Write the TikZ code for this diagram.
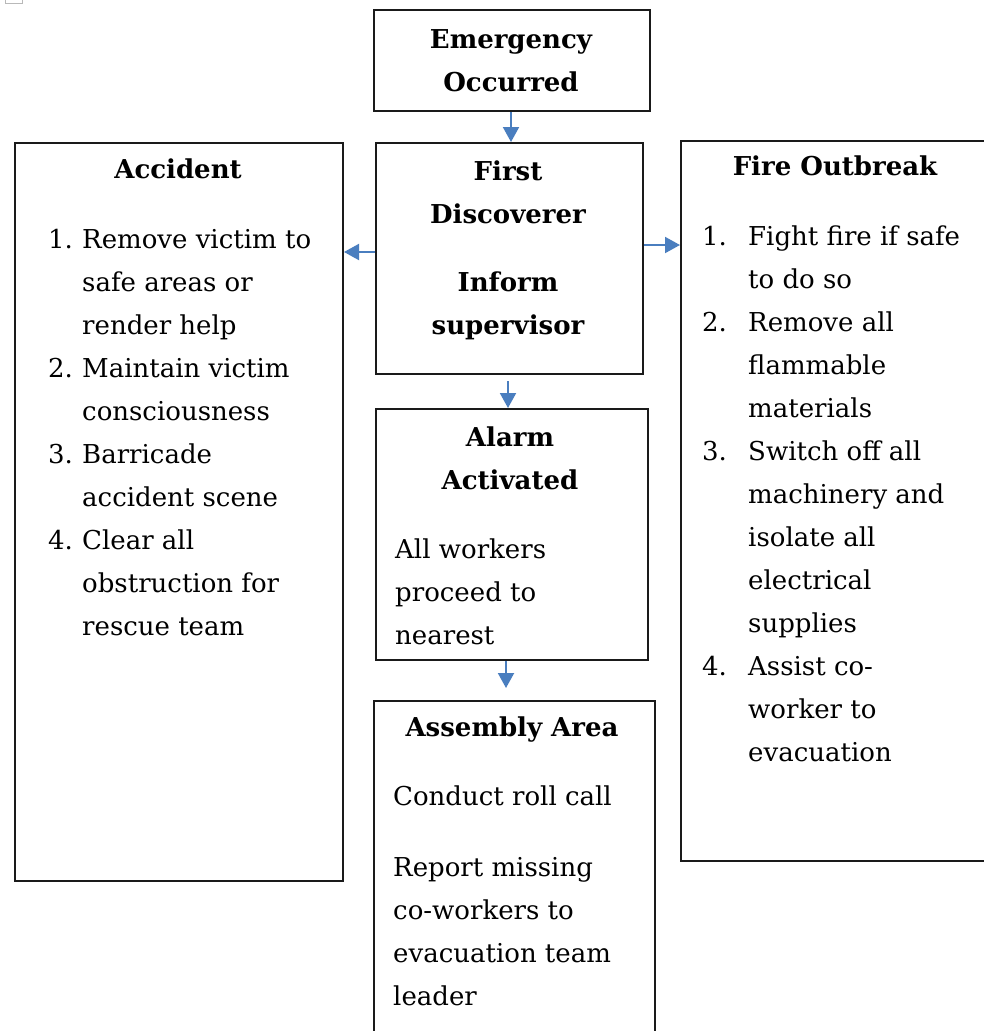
\documentclass[tikz,border=0pt]{standalone}
\usepackage{fontspec}
\setmainfont{DejaVu Serif}
\usetikzlibrary{arrows.meta}
\definecolor{arrblue}{HTML}{4A7EBF}
\definecolor{boxline}{HTML}{1A1A1A}
\newcommand{\fsz}{\fontsize{26}{43}\selectfont}
\begin{document}
\begin{tikzpicture}[x=1pt,y=-1pt,
  box/.style={draw=boxline,line width=2pt,inner sep=0pt,anchor=north west},
  arr/.style={draw=arrblue,line width=2pt,-{Triangle[length=15pt,width=16pt]}},
  ttl/.style={inner sep=0pt,font=\fsz\bfseries,anchor=base},
  lst/.style={inner sep=0pt,font=\fsz,anchor=base west}]
\useasboundingbox (0,0) rectangle (984,1031);
\clip (0,0) rectangle (984,1031);
\fill[white] (0,0) rectangle (984,1031);
\draw[gray!55,line width=1pt] (5,-4) rectangle (22,3);

% boxes
\node[box,minimum width=276pt,minimum height=101pt] (emerg) at (373,9) {};
\node[box,minimum width=267pt,minimum height=231pt] (first) at (375,142) {};
\node[box,minimum width=328pt,minimum height=738pt] (acc) at (14,142) {};
\node[box,minimum width=330pt,minimum height=720pt] (fire) at (680,140) {};
\node[box,minimum width=272pt,minimum height=251pt] (alarm) at (375,408) {};
\node[box,minimum width=281pt,minimum height=380pt] (assem) at (373,700) {};

% titles
\node[ttl] (emergT) at (511,48) {\begin{tabular}[t]{@{}c@{}}Emergency\\Occurred\end{tabular}};
\node[ttl] (firstT) at (508,180) {\begin{tabular}[t]{@{}c@{}}First\\Discoverer\end{tabular}};
\node[ttl] (informT) at (508,291) {\begin{tabular}[t]{@{}c@{}}Inform\\supervisor\end{tabular}};
\node[ttl] (accT) at (178,178) {Accident};
\node[ttl] (fireT) at (835,175) {Fire Outbreak};
\node[ttl] (alarmT) at (510,446) {\begin{tabular}[t]{@{}c@{}}Alarm\\Activated\end{tabular}};
\node[ttl] (assemT) at (512,736) {Assembly Area};

% bodies
\node[lst] (accL) at (48,248) {\begin{tabular}[t]{@{}p{34pt}@{}l@{}}
1.&Remove victim to\\ &safe areas or\\ &render help\\
2.&Maintain victim\\ &consciousness\\
3.&Barricade\\ &accident scene\\
4.&Clear all\\ &obstruction for\\ &rescue team\end{tabular}};
\node[lst] (fireL) at (702,245) {\begin{tabular}[t]{@{}p{46pt}@{}l@{}}
1.&Fight fire if safe\\ &to do so\\
2.&Remove all\\ &flammable\\ &materials\\
3.&Switch off all\\ &machinery and\\ &isolate all\\ &electrical\\ &supplies\\
4.&Assist co-\\ &worker to\\ &evacuation\end{tabular}};
\node[lst] (alarmL) at (395,558) {\begin{tabular}[t]{@{}l@{}}All workers\\proceed to\\nearest\end{tabular}};
\node[lst] (assemL1) at (393,805) {Conduct roll call};
\node[lst] (assemL2) at (393,876) {\begin{tabular}[t]{@{}l@{}}Report missing\\co-workers to\\evacuation team\\leader\end{tabular}};

% connectors
\draw[arr] ([xshift=-1pt]emerg.south) -- ([xshift=-1pt]emerg.south |- first.north);
\coordinate (l1) at ([yshift=6.5pt]first.west);
\draw[arr] (l1) -- (l1 -| acc.east);
\coordinate (r1) at ([yshift=13.5pt]first.east);
\draw[arr] (r1) -- (r1 -| fire.west);
\coordinate (d1) at ([xshift=-1.5pt,yshift=-6pt]first.south);
\draw[arr] (d1) -- (d1 |- alarm.north);
\coordinate (d2) at ([xshift=-6pt]alarm.south);
\draw[arr,shorten >=12pt] (d2) -- (d2 |- assem.north);
\end{tikzpicture}
\end{document}
